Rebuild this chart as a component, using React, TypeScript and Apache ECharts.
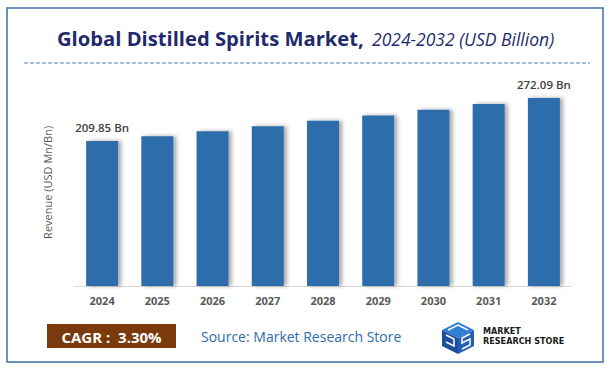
import React, { useEffect, useRef } from "react";
import * as echarts from "echarts";

const categories = ["2024", "2025", "2026", "2027", "2028", "2029", "2030", "2031", "2032"];
const revenue = [209.85, 216.8, 223.9, 231.3, 239.0, 246.8, 254.9, 263.4, 272.09];
const titleMain = "Global Distilled Spirits Market,";
const titleSub = "2024-2032 (USD Billion)";
const cagrText = "CAGR :  3.30%";
const sourceText = "Source: Market Research Store";

export default function App() {
  const ref = useRef<HTMLDivElement>(null);
  useEffect(() => {
    document.body.style.margin = "0";
    const chart = echarts.init(ref.current!, null, { renderer: "svg" });
    const last = revenue.length - 1;
    chart.setOption({
      animation: false,
      backgroundColor: "#ffffff",
      grid: { left: 74.5, right: 39.5, top: 78.7, bottom: 85, containLabel: false },
      xAxis: {
        type: "category",
        data: categories,
        axisLine: { show: true, lineStyle: { color: "#d9d9d9", width: 1 } },
        axisTick: { show: false },
        axisLabel: {
          color: "#595959",
          fontSize: 11,
          fontWeight: "bold",
          fontFamily: "Open Sans",
          margin: 9,
        },
      },
      yAxis: {
        type: "value",
        min: 0,
        max: 300,
        show: true,
        axisLine: { show: false },
        axisTick: { show: false },
        axisLabel: { show: false },
        splitLine: { show: false },
        name: "Revenue (USD Mn/Bn)",
        nameLocation: "middle",
        nameGap: 22,
        nameRotate: 90,
        nameTextStyle: { color: "#595959", fontSize: 11, fontFamily: "Open Sans" },
      },
      series: [
        {
          type: "bar",
          data: revenue.map((v, i) => ({
            value: v,
            label: {
              show: i === 0 || i === last,
              position: "top",
              distance: 7,
              color: "#404040",
              fontSize: 11.5,
              fontWeight: 600,
              fontFamily: "Open Sans",
              formatter: (p: any) => p.value.toFixed(2) + " Bn",
            },
          })),
          barWidth: 32,
          itemStyle: {
            color: "#2E6DAB",
            shadowColor: "rgba(0,0,0,0.35)",
            shadowBlur: 4,
            shadowOffsetX: 3,
            shadowOffsetY: 0,
          },
        },
      ],
      graphic: [
        {
          type: "rect",
          shape: { x: 7, y: 8, width: 596, height: 354 },
          style: { fill: "none", stroke: "#3B6EA6", lineWidth: 1.5 },
          silent: true,
        },
        {
          type: "text",
          x: 57,
          y: 38,
          style: {
            text: titleMain,
            fill: "#1F2A6C",
            font: "bold 20.2px 'Open Sans'",
            verticalAlign: "middle",
          },
        },
        {
          type: "text",
          x: 372,
          y: 39,
          style: {
            text: titleSub,
            fill: "#1F2A6C",
            font: "italic 17.5px 'Open Sans'",
            verticalAlign: "middle",
          },
        },
        {
          type: "line",
          shape: { x1: 24, y1: 63, x2: 590, y2: 63 },
          style: { stroke: "#4A7CC4", lineWidth: 1, lineDash: [4, 2] },
        },
        {
          type: "rect",
          shape: { x: 47, y: 324, width: 129, height: 24 },
          style: { fill: "#7B3A0C" },
        },
        {
          type: "text",
          x: 111.5,
          y: 336.5,
          style: {
            text: cagrText,
            fill: "#ffffff",
            font: "bold 15px 'Open Sans'",
            align: "center",
            verticalAlign: "middle",
          },
        },
        {
          type: "text",
          x: 201,
          y: 336.5,
          style: {
            text: sourceText,
            fill: "#2E6DAB",
            font: "14px 'Open Sans'",
            verticalAlign: "middle",
          },
        },
        // logo cube
        {
          type: "group",
          x: 438,
          y: 322,
          children: [
            { type: "polygon", shape: { points: [[4, 8], [20, 0], [36, 8], [20, 16]] }, style: { fill: "#2F7FD6" } },
            { type: "polygon", shape: { points: [[4, 8], [20, 16], [20, 32], [4, 24]] }, style: { fill: "#1C4F9C" } },
            { type: "polygon", shape: { points: [[20, 16], [36, 8], [36, 24], [20, 32]] }, style: { fill: "#245FB3" } },
            { type: "polyline", shape: { points: [[10, 8], [20, 3], [30, 8]] }, style: { stroke: "#ffffff", lineWidth: 1.5, fill: "none" } },
            { type: "polyline", shape: { points: [[8, 13], [16, 17], [16, 24], [8, 20]] }, style: { stroke: "#ffffff", lineWidth: 1.5, fill: "none" } },
            { type: "polyline", shape: { points: [[32, 12], [24, 16], [24, 21], [32, 17], [32, 23], [24, 27]] }, style: { stroke: "#ffffff", lineWidth: 1.5, fill: "none" } },
          ],
        },
        {
          type: "text",
          x: 483,
          y: 330.5,
          style: {
            text: "MARKET",
            fill: "#1a1a1a",
            font: "bold 9px 'DejaVu Sans Condensed', 'Liberation Sans Narrow', Arial",
            verticalAlign: "middle",
          },
        },
        {
          type: "text",
          x: 483,
          y: 340.5,
          style: {
            text: "RESEARCH STORE",
            fill: "#1a1a1a",
            font: "bold 9px 'DejaVu Sans Condensed', 'Liberation Sans Narrow', Arial",
            verticalAlign: "middle",
          },
        },
      ],
    });
    return () => chart.dispose();
  }, []);
  return <div ref={ref} style={{ width: 611, height: 371 }} />;
}
